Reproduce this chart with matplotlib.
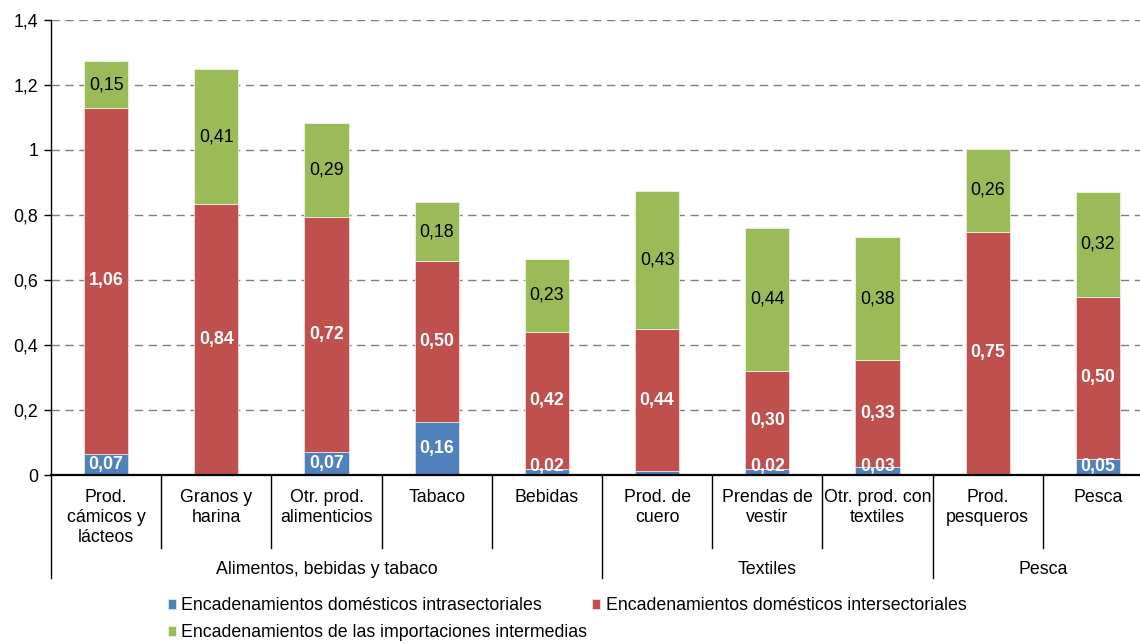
import matplotlib
matplotlib.use("Agg")
import matplotlib.pyplot as plt
from matplotlib.lines import Line2D
import numpy as np

plt.rcParams['font.family'] = ['Liberation Sans', 'DejaVu Sans']

categories = ["Prod.\ncámicos y\nlácteos", "Granos y\nharina", "Otr. prod.\nalimenticios",
              "Tabaco", "Bebidas", "Prod. de\ncuero", "Prendas de\nvestir",
              "Otr. prod. con\ntextiles", "Prod.\npesqueros", "Pesca"]
groups = ["Alimentos, bebidas y tabaco", "Textiles", "Pesca"]
group_sizes = [5, 3, 2]

intra = [0.065, 0.0, 0.071, 0.163, 0.018, 0.012, 0.018, 0.025, 0.003, 0.05]
inter = [1.064, 0.834, 0.723, 0.495, 0.422, 0.437, 0.302, 0.329, 0.745, 0.498]
impor = [0.145, 0.415, 0.289, 0.182, 0.225, 0.425, 0.44, 0.378, 0.255, 0.323]

intra_labels = ["0,07", None, "0,07", "0,16", "0,02", None, "0,02", "0,03", None, "0,05"]
inter_labels = ["1,06", "0,84", "0,72", "0,50", "0,42", "0,44", "0,30", "0,33", "0,75", "0,50"]
impor_labels = ["0,15", "0,41", "0,29", "0,18", "0,23", "0,43", "0,44", "0,38", "0,26", "0,32"]

series_names = ["Encadenamientos domésticos intrasectoriales",
                "Encadenamientos domésticos intersectoriales",
                "Encadenamientos de las importaciones intermedias"]
colors = ["#4F81BD", "#C0504D", "#9BBB59"]
yticks = [0, 0.2, 0.4, 0.6, 0.8, 1.0, 1.2, 1.4]

W, H = 1140, 643
fig = plt.figure(figsize=(W / 100, H / 100), dpi=100)
ax_left, ax_right = 51, 1153
ax_top, ax_bot = 20, 475
ax = fig.add_axes([ax_left / W, (H - ax_bot) / H, (ax_right - ax_left) / W, (ax_bot - ax_top) / H])

x = np.arange(len(categories))
bw = 0.4
intra_a = np.array(intra); inter_a = np.array(inter); impor_a = np.array(impor)
b1 = ax.bar(x, intra_a, bw, color=colors[0], edgecolor="#dde6f0", linewidth=0.6, zorder=3)
b2 = ax.bar(x, inter_a, bw, bottom=intra_a, color=colors[1], edgecolor="#f0dede", linewidth=0.6, zorder=3)
b3 = ax.bar(x, impor_a, bw, bottom=intra_a + inter_a, color=colors[2], edgecolor="#eef3e6", linewidth=0.6, zorder=3)

fs = 12.8
for i in x:
    if intra_labels[i]:
        yc = max(intra_a[i] / 2, 0.026)
        ax.text(i, yc, intra_labels[i], ha="center", va="center", color="white",
                fontweight="bold", fontsize=fs, zorder=5)
    ax.text(i, intra_a[i] + inter_a[i] / 2, inter_labels[i], ha="center", va="center",
            color="white", fontweight="bold", fontsize=fs, zorder=5)
    ax.text(i, intra_a[i] + inter_a[i] + impor_a[i] / 2, impor_labels[i], ha="center",
            va="center", color="black", fontsize=fs, zorder=5)

ax.set_xlim(-0.5, len(categories) - 0.5)
ax.set_ylim(0, 1.4)
ax.set_yticks(yticks)
ax.set_yticklabels([("%g" % v).replace(".", ",") for v in yticks], fontsize=fs)
ax.set_xticks([])
ax.yaxis.grid(True, linestyle=(0, (6, 4)), color="#7f7f7f", linewidth=1.0, zorder=0)
ax.set_axisbelow(True)
for s in ["top", "right"]:
    ax.spines[s].set_visible(False)
ax.spines["left"].set_color("black")
ax.spines["left"].set_linewidth(1.0)
ax.spines["bottom"].set_color("black")
ax.spines["bottom"].set_linewidth(1.6)
ax.spines["bottom"].set_zorder(6)
ax.tick_params(axis="y", length=5, width=1, color="black", pad=4)

# category labels
trans = ax.get_xaxis_transform()
ph = ax_bot - ax_top
for i, c in enumerate(categories):
    ax.text(i, -(489 - ax_bot) / ph, c, ha="center", va="top", fontsize=fs,
            linespacing=1.25, transform=trans)

# dividers
group_edges = np.cumsum([0] + group_sizes) - 0.5
short_y = -(548 - ax_bot) / ph
long_y = -(578 - ax_bot) / ph
for i in range(len(categories) + 1):
    xe = i - 0.5
    if np.any(np.isclose(group_edges, xe)):
        yb = long_y
    else:
        yb = short_y
    ax.add_line(Line2D([xe, xe], [0, yb], transform=trans, color="black", lw=1.0, clip_on=False))

start = -0.5
for g, n in zip(groups, group_sizes):
    ax.text(start + n / 2, -(569 - ax_bot) / ph, g, ha="center", va="center",
            fontsize=fs, transform=trans)
    start += n

handles = [b1, b3, b2]
labels = [series_names[0], series_names[2], series_names[1]]
fig.legend(handles, labels, ncol=2, loc="upper left", bbox_to_anchor=(168 / W, (H - 597) / H),
           frameon=False, fontsize=fs, handlelength=0.45, handleheight=0.5,
           handletextpad=0.3, columnspacing=0.28, labelspacing=0.57, borderpad=0,
           borderaxespad=0)

fig.savefig("out.png", dpi=100)
